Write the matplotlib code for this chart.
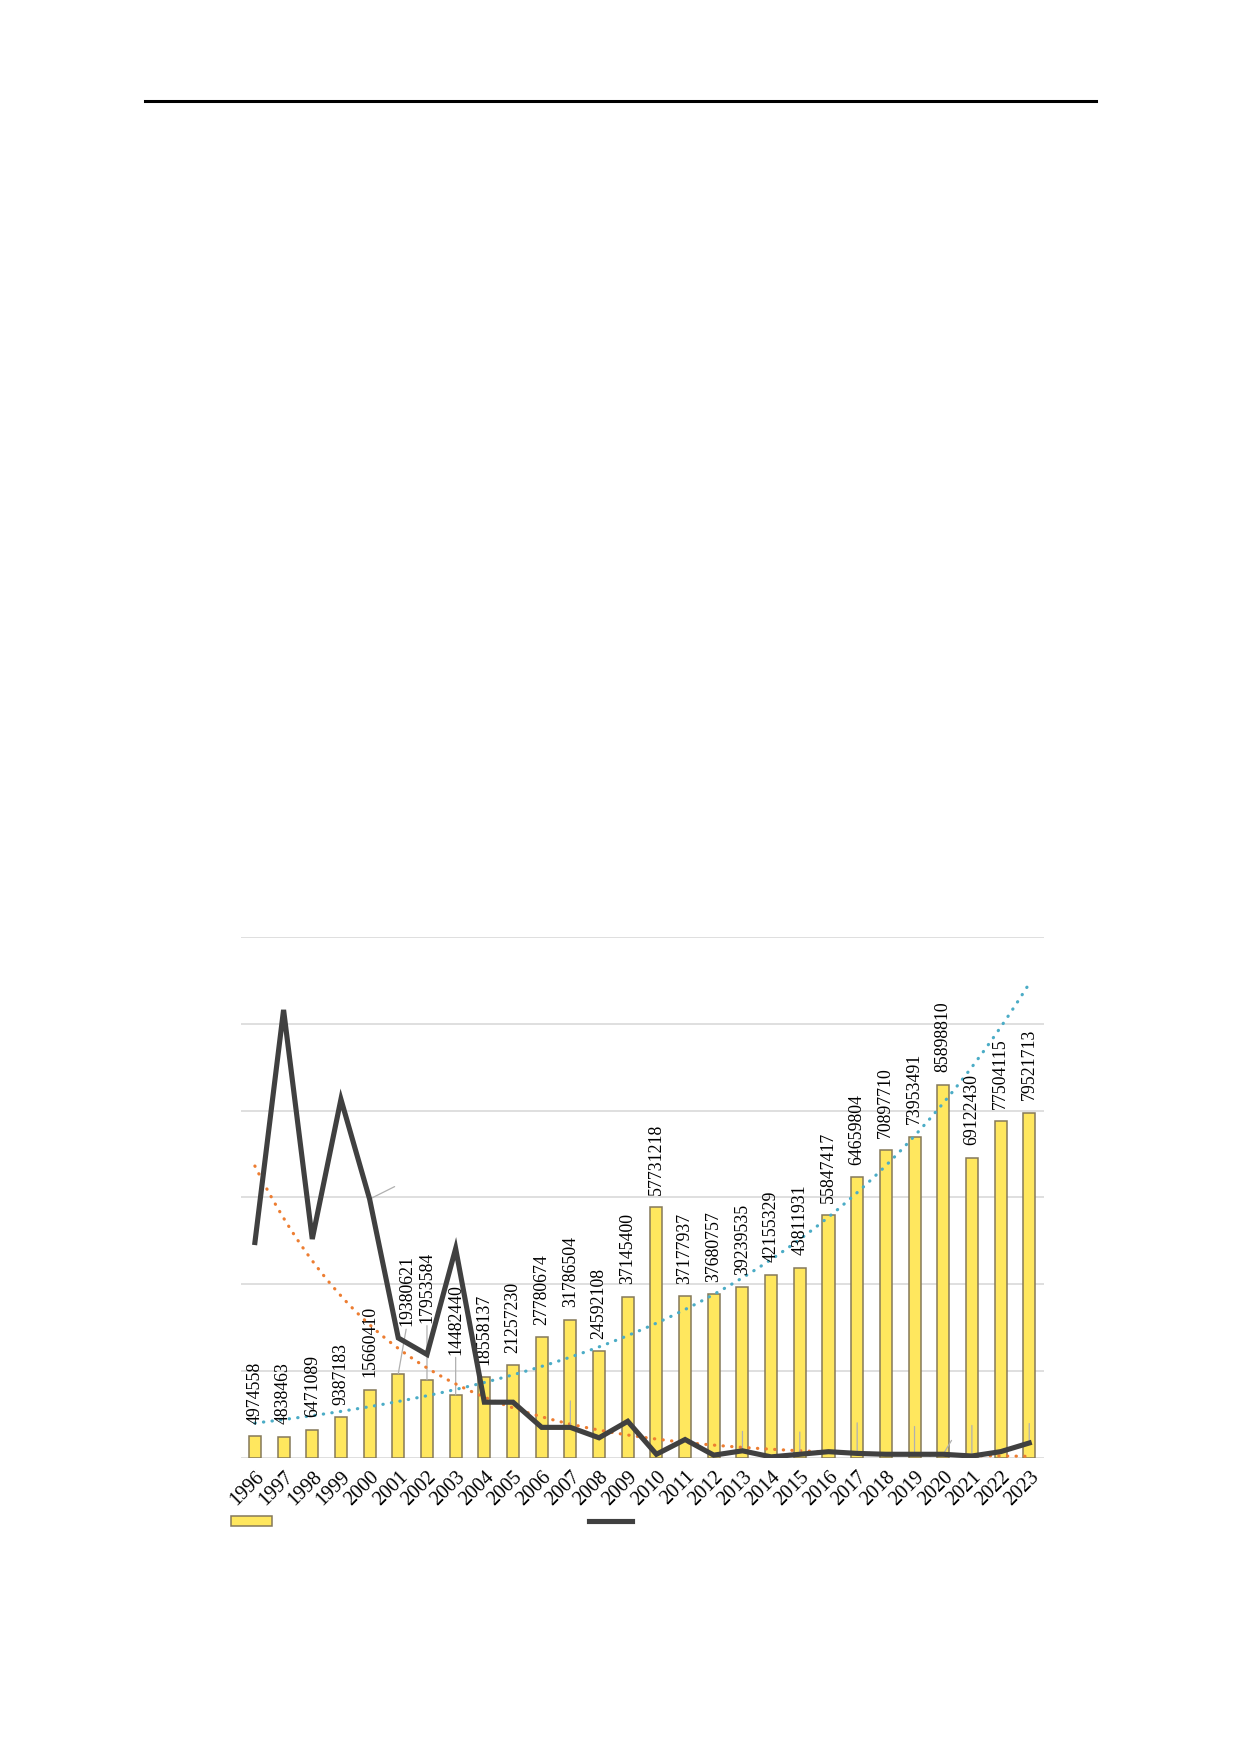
import numpy as np
import matplotlib
matplotlib.use("Agg")
from matplotlib import pyplot as plt
from matplotlib.lines import Line2D
from matplotlib.patches import Patch

plt.rcParams['font.family'] = ['Liberation Serif', 'DejaVu Serif']

# data
years = list(range(1996, 2024))
bar_values = [4974558, 4838463, 6471089, 9387183, 15660410, 19380621, 17953584,
              14482440, 18558137, 21257230, 27780674, 31786504, 24592108, 37145400,
              57731218, 37177937, 37680757, 39239535, 42155329, 43811931, 55847417,
              64659804, 70897710, 73953491, 85898810, 69122430, 77504115, 79521713]
# second series (secondary axis, no visible scale)
line_values = [248, 516, 252, 413, 298, 138, 119, 241, 64, 64, 35, 35, 23, 42,
               4, 21, 3, 8, 1, 4, 7, 5, 4, 4, 4, 2, 7, 17]

# labels that were pushed up with leader lines (extra offset in points)
label_shift = {2001: (6, 25), 2002: (0, 32), 2003: (0, 20)}
# leader lines of hidden labels on the line series (offset in points)
line_leaders = {2000: (18, 9), 2007: (0, 19), 2013: (0, 14), 2015: (0, 16),
                2017: (0, 22), 2019: (0, 20), 2020: (6, 10), 2021: (0, 22),
                2023: (0, 14)}

BAR_FILL = '#FFE75E'
BAR_EDGE = '#85795A'
LINE_C = '#404040'
GRID_C = '#D9D9D9'
LEADER_C = '#B0B0B0'

fig = plt.figure(figsize=(12.4, 17.54), dpi=100)
ax = fig.add_axes([0.194, 0.1689, 0.6476, 0.2969])
ax2 = ax.twinx()
x = np.arange(len(years))

ax.bar(x, bar_values, width=0.42, color=BAR_FILL, edgecolor=BAR_EDGE,
       linewidth=1.1, zorder=2)
ax.set_xlim(-0.5, len(years) - 0.5)
ax.set_ylim(0, 120e6)
ax.set_yticks(np.arange(0, 120e6 + 1, 20e6))
ax.yaxis.grid(True, color=GRID_C, linewidth=1.2, zorder=0)
ax.set_axisbelow(True)
ax.set_xticks(x)
ax.set_xticklabels([str(y) for y in years], rotation=45, ha='right',
                   va='top', rotation_mode='anchor', fontsize=14.5)

# data labels
for i, (yr, v) in enumerate(zip(years, bar_values)):
    dx, dy = label_shift.get(yr, (0, 0))
    props = None
    if yr in label_shift:
        props = dict(arrowstyle='-', color=LEADER_C, lw=0.9,
                     shrinkA=0, shrinkB=0, relpos=(0.5, 0))
    ax.annotate(str(v), xy=(i, v), xytext=(dx, 9 + dy), textcoords='offset points',
                rotation=90, ha='center', va='bottom', fontsize=12.8,
                arrowprops=props, zorder=5)

# exponential trendline of the bars
k1 = np.polyfit(x, np.log(bar_values), 1)
xs = np.linspace(0, len(years) - 1, 300)
ax.plot(xs, np.exp(np.polyval(k1, xs)), color='#4BACC6', lw=2.3,
        linestyle=(0, (0.1, 2.6)), dash_capstyle='round', zorder=4)

# second series on a hidden secondary axis
ax2.set_ylim(0, 600)
k2 = np.polyfit(x, np.log(line_values), 1)
ax2.plot(xs, np.exp(np.polyval(k2, xs)), color='#ED7D31', lw=2.3,
         linestyle=(0, (0.1, 2.6)), dash_capstyle='round', zorder=3)
ax2.plot(x, line_values, color=LINE_C, lw=3.7, solid_joinstyle='miter', zorder=6)

for yr, (dx, dy) in line_leaders.items():
    i = years.index(yr)
    ax2.annotate('', xy=(i, line_values[i]), xytext=(dx, dy),
                 textcoords='offset points',
                 arrowprops=dict(arrowstyle='-', color=LEADER_C, lw=0.9,
                                 shrinkA=0, shrinkB=0))

for a in (ax, ax2):
    a.tick_params(axis='y', left=False, right=False,
                  labelleft=False, labelright=False)
    for s in a.spines.values():
        s.set_visible(False)
ax.tick_params(axis='x', length=0, pad=7)

# legend keys (their labels are blank in the source)
fig.legend([Patch(facecolor=BAR_FILL, edgecolor=BAR_EDGE, linewidth=1.1)], [''],
           loc='center left', bbox_to_anchor=(231 / 1240, 1 - 1522 / 1754),
           frameon=False, fontsize=10, handlelength=2.95, handleheight=0.72,
           borderpad=0, borderaxespad=0, handletextpad=0)
fig.legend([Line2D([], [], color=LINE_C, lw=3.7)], [''],
           loc='center left', bbox_to_anchor=(589 / 1240, 1 - 1522 / 1754),
           frameon=False, fontsize=10, handlelength=3.1,
           borderpad=0, borderaxespad=0, handletextpad=0)

# page header rule
fig.add_artist(Line2D([145 / 1240, 1096 / 1240], [1 - 100.5 / 1754] * 2,
                      color='black', lw=2.2, transform=fig.transFigure))

fig.savefig('out.png', dpi=100)
